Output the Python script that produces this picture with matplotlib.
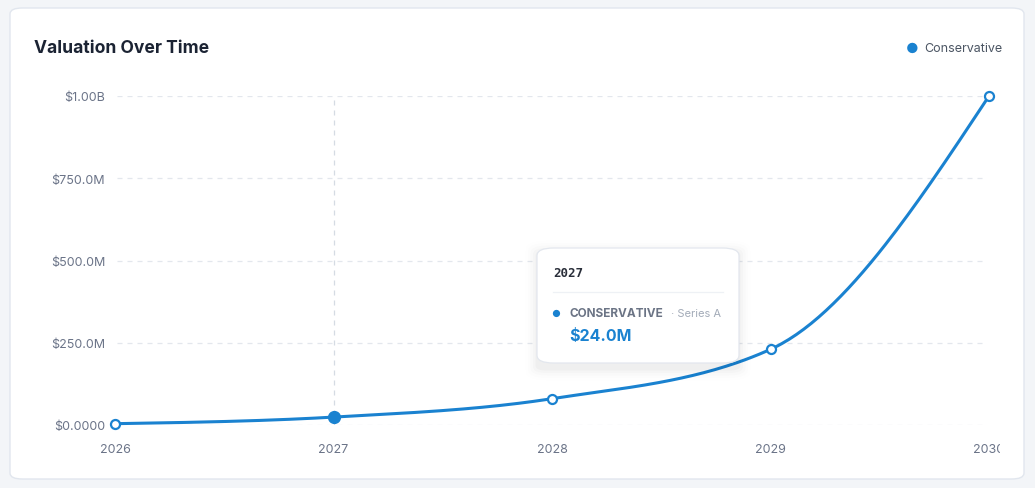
import numpy as np
import matplotlib.pyplot as plt
from matplotlib.patches import FancyBboxPatch
from matplotlib.ticker import FuncFormatter
from matplotlib.transforms import Bbox, TransformedBbox

# Data
years = [2026, 2027, 2028, 2029, 2030]
valuation = [4e6, 24e6, 80e6, 230e6, 1000e6]
y_ticks = [0, 250e6, 500e6, 750e6, 1000e6]
y_tick_labels = ['$0.0000', '$250.0M', '$500.0M', '$750.0M', '$1.00B']
hover_year = 2027
hover_value = 24e6

BLUE = '#1a82d0'
GRID = '#e3e7ed'
TICK = '#6b7488'

W, H = 1035, 489


def monotone_x(x, y, n=60):
    # monotone cubic curve (like d3 curveMonotoneX) through the points
    x = np.asarray(x, float)
    y = np.asarray(y, float)
    h = np.diff(x)
    s = np.diff(y) / h
    t = np.zeros_like(y)
    for i in range(1, len(x) - 1):
        p = (s[i - 1] * h[i] + s[i] * h[i - 1]) / (h[i - 1] + h[i])
        t[i] = (np.sign(s[i - 1]) + np.sign(s[i])) * min(abs(s[i - 1]), abs(s[i]), 0.5 * abs(p))
    t[0] = (3 * s[0] - t[1]) / 2
    t[-1] = (3 * s[-1] - t[-2]) / 2
    xs, ys = [], []
    for i in range(len(x) - 1):
        u = np.linspace(0, 1, n)
        h00 = 2 * u**3 - 3 * u**2 + 1
        h10 = u**3 - 2 * u**2 + u
        h01 = -2 * u**3 + 3 * u**2
        h11 = u**3 - u**2
        xs.append(x[i] + u * h[i])
        ys.append(h00 * y[i] + h10 * h[i] * t[i] + h01 * y[i + 1] + h11 * h[i] * t[i + 1])
    return np.concatenate(xs), np.concatenate(ys)


plt.rcParams['font.family'] = ['Inter', 'DejaVu Sans']

fig = plt.figure(figsize=(W / 100, H / 100), dpi=100)
fig.patch.set_facecolor('#f3f5f8')

# card
card = FancyBboxPatch((10 / W, 9 / H), 1014 / W, 471 / H,
                      boxstyle='round,pad=0,rounding_size=0.012',
                      transform=fig.transFigure, facecolor='white',
                      edgecolor='#e1e6ee', linewidth=1, zorder=-10)
fig.patches.append(card)

fig.text(34 / W, 1 - 49 / H, 'Valuation Over Time', fontsize=12.6, fontweight='bold',
         color='#1b2333', va='center', ha='left')

# legend
fig.text(912 / W, 1 - 49 / H, '●', fontsize=10, color=BLUE, va='center', ha='center')
fig.text(924 / W, 1 - 49 / H, 'Conservative', fontsize=9, color='#4b5563', va='center', ha='left')

left, right = 115, 989
top, bottom = 97, 426
ax = fig.add_axes([left / W, 1 - bottom / H, (right - left) / W, (bottom - top) / H])
ax.set_facecolor('none')
ax.set_xlim(years[0], years[-1])
ax.set_ylim(0, 1000e6)

for yv in y_ticks:
    ax.plot([years[0] + 0.01, years[-1] - 0.01], [yv, yv], color=GRID, lw=0.9,
            ls=(0, (4, 4)), zorder=1)
ax.plot([hover_year, hover_year], [0, 1000e6], color='#d5dbe3', lw=0.9,
        ls=(0, (4, 4)), zorder=1)

cx, cy = monotone_x(years, valuation)
ax.plot(cx, cy, color=BLUE, lw=2.2, zorder=3, clip_on=False, solid_capstyle='round')
others = [(x, v) for x, v in zip(years, valuation) if x != hover_year]
ax.plot([o[0] for o in others], [o[1] for o in others], 'o', ms=6.5, mfc='white',
        mec=BLUE, mew=1.6, zorder=4, clip_on=False)
ax.plot([hover_year], [hover_value], 'o', ms=8.5, color=BLUE, zorder=4, clip_on=False)

ax.set_xticks(years)
ax.set_xticklabels([str(y) for y in years])
ax.set_yticks(y_ticks)
ax.yaxis.set_major_formatter(FuncFormatter(lambda v, p: y_tick_labels[y_ticks.index(v)] if v in y_ticks else ''))
ax.tick_params(length=0, labelsize=9, labelcolor=TICK)
ax.tick_params(axis='x', pad=13)
ax.tick_params(axis='y', pad=7)
for sp in ax.spines.values():
    sp.set_visible(False)

# last year label is cut off at the right edge of the plot area
clip = TransformedBbox(Bbox([[0, 0], [1000 / W, 1]]), fig.transFigure)
for lbl in ax.get_xticklabels():
    lbl.set_clip_box(clip)
    lbl.set_clip_on(True)

# tooltip
tx0, ty0, tw, th = 537, 249, 202, 115
for k, a in enumerate([0.022, 0.016, 0.011, 0.007, 0.004]):
    d = (k + 1) * 2.5
    sh = FancyBboxPatch(((tx0 - d + 1) / W, 1 - (ty0 + th + d + 5) / H), (tw + 2 * d - 2) / W, (th + 2 * d) / H,
                        boxstyle=f'round,pad=0,rounding_size={(8 + d) / W:.4f}', transform=fig.transFigure,
                        facecolor='#0f172a', edgecolor='none', alpha=a, zorder=5)
    fig.patches.append(sh)
tip = FancyBboxPatch((tx0 / W, 1 - (ty0 + th) / H), tw / W, th / H,
                     boxstyle='round,pad=0,rounding_size=0.016', transform=fig.transFigure,
                     facecolor='white', edgecolor='#e3e7ee', linewidth=0.9, zorder=6)
fig.patches.append(tip)
fig.text(553 / W, 1 - 274 / H, str(hover_year), fontsize=9, fontweight='bold',
         family='DejaVu Sans Mono', color='#2a2f3a', va='center', ha='left', zorder=7)
fig.lines.append(plt.Line2D([553 / W, 723 / W], [1 - 293 / H, 1 - 293 / H], transform=fig.transFigure,
                            color='#eef1f5', lw=0.9, zorder=7))
fig.text(556 / W, 1 - 314 / H, '●', fontsize=7, color=BLUE, va='center', ha='center', zorder=7)
fig.text(569 / W, 1 - 314 / H, 'CONSERVATIVE', fontsize=8.5, fontweight='bold',
         color='#6b7485', va='center', ha='left', zorder=7)
fig.text(671 / W, 1 - 314 / H, '· Series A', fontsize=8, color='#a3abb8',
         va='center', ha='left', zorder=7)
fig.text(569 / W, 1 - 336 / H, f'${hover_value / 1e6:.1f}M', fontsize=11.5, fontweight='bold',
         color=BLUE, va='center', ha='left', zorder=7)

fig.savefig('out.png', dpi=100, facecolor=fig.get_facecolor())
